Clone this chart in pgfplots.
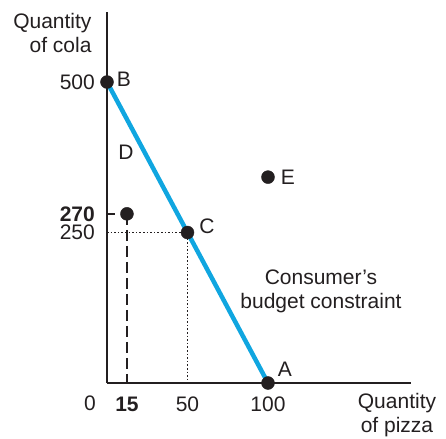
\documentclass[border=0pt]{standalone}
\usepackage{pgfplots}
\pgfplotsset{compat=1.18}
\usepackage{fontspec}
\setmainfont{Liberation Sans}
\definecolor{budget}{RGB}{16,166,224}
\definecolor{ink}{RGB}{35,31,32}
\begin{document}
\begin{tikzpicture}[font=\fontsize{21bp}{24bp}\selectfont]
\useasboundingbox (-107bp,-56bp) rectangle (339bp,383bp);
\begin{axis}[
    anchor=origin, at={(0,0)},
    x=1.61bp, y=0.602bp,
    xmin=0, xmax=189, ymin=0, ymax=616,
    axis lines=left,
    axis line style={-, line width=1.2bp, ink},
    xtick={12.4,50,100}, xticklabels={\textbf{15},50,100},
    ytick={250,281,500}, yticklabels={250,\textbf{270},500},
    major tick length=0pt,
    tick label style={font=\fontsize{21bp}{24bp}\selectfont, text=ink, inner sep=1bp},
    xticklabel style={yshift=-13bp},
    yticklabel style={xshift=-11bp},
    /pgf/number format/assume math mode=true,
    clip=false,
]
% guide lines
\addplot[ink, dash pattern=on 1.6bp off 2bp, line width=1.8bp] coordinates {(0,250) (50,250) (50,0)};
\addplot[ink, dash pattern=on 11bp off 5bp, line width=2.6bp] coordinates {(12.4,281) (12.4,0)};
\draw[ink, line width=1.5bp] (axis cs:0,281) -- (axis cs:5,281);
% budget constraint
\addplot[budget, line width=4.5bp] coordinates {(0,500) (100,0)};
% points
\addplot[only marks, mark=*, mark size=6.5bp, ink] coordinates {(0,500) (12.4,281) (50,250) (100,0) (100,342)};
\end{axis}
\node[ink] at (17bp,304bp) {B};
\node[ink] at (19bp,231bp) {D};
\node[ink] at (100bp,157bp) {C};
\node[ink] at (181bp,206bp) {E};
\node[ink] at (178bp,14bp) {A};
\node[ink] at (-17bp,-20bp) {0};
\node[ink, align=center] at (214bp,92bp) {Consumer’s\\budget constraint};
\node[ink, align=right, anchor=east] at (-12bp,350bp) {Quantity\\of cola};
\node[ink, align=center] at (290bp,-32bp) {Quantity\\of pizza};
\end{tikzpicture}
\end{document}
